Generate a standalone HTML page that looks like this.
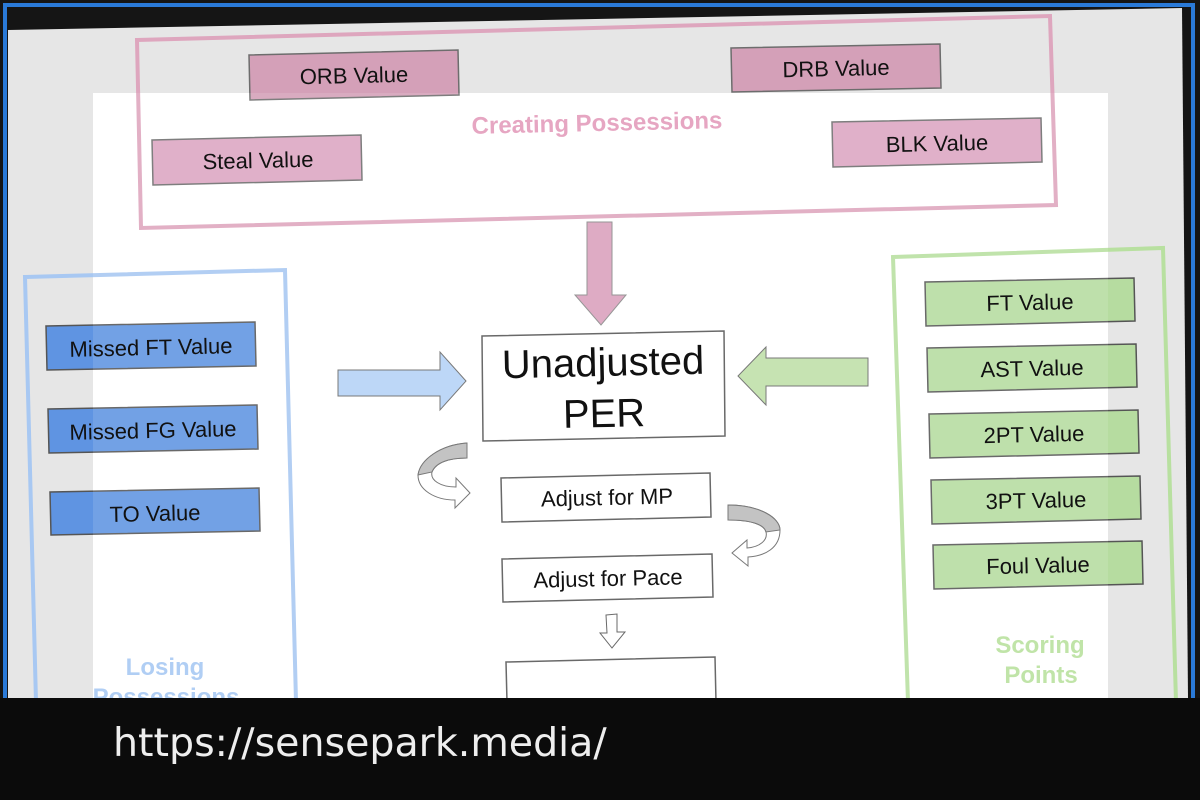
<!DOCTYPE html>
<html><head><meta charset="utf-8"><style>
html,body{margin:0;padding:0;background:#111;}
svg{display:block}
</style></head><body>
<svg width="1200" height="800" viewBox="0 0 1200 800" xmlns="http://www.w3.org/2000/svg" font-family="'Liberation Sans', Arial, sans-serif">
<rect x="0" y="0" width="1200" height="800" fill="#151515"/>
<polygon points="8,30 1182,8 1188,698 8,698" fill="#e6e6e6"/>
<rect x="93" y="93" width="1015" height="605" fill="#ffffff"/>
<polyline points="5,698 5,5 1193,5 1193,698" fill="none" stroke="#2a7ad8" stroke-width="4"/>

<g>
<polygon points="137,40 1050,16 1056,205 141,228" fill="none" stroke="#dea6be" stroke-width="4"/>
<polygon points="249,55 458,50 459,95 250,100" fill="#d4a0b8" stroke="#6d6d6d" stroke-width="1.5"/>
<polygon points="731,48 940,44 941,88 732,92" fill="#d4a0b8" stroke="#6d6d6d" stroke-width="1.5"/>
<polygon points="152,140 361,135 362,180 153,185" fill="#dca6c2" stroke="#6d6d6d" stroke-width="1.5"/>
<polygon points="832,122 1041,118 1042,162 833,167" fill="#dca6c2" stroke="#6d6d6d" stroke-width="1.5"/>
<polygon points="587,222 612,222 612,295 626,295 601,325 575,295 587,295" fill="#daa0bc" stroke="#888" stroke-width="1"/>
<polygon points="25,277 285,270 296,702 36,702" fill="none" stroke="#a8c8f2" stroke-width="4"/>
<polygon points="46,326 255,322 256,366 47,370" fill="#5f94e2" stroke="#555" stroke-width="1.5"/>
<polygon points="48,409 257,405 258,449 49,453" fill="#5f94e2" stroke="#555" stroke-width="1.5"/>
<polygon points="50,492 259,488 260,531 51,535" fill="#5f94e2" stroke="#555" stroke-width="1.5"/>
<polygon points="893,257 1163,248 1176,702 908,702" fill="none" stroke="#b8e0a0" stroke-width="4"/>
<polygon points="925,282 1134,278 1135,321 926,326" fill="#b6dca0" stroke="#555" stroke-width="1.5"/>
<polygon points="927,348 1136,344 1137,387 928,392" fill="#b6dca0" stroke="#555" stroke-width="1.5"/>
<polygon points="929,414 1138,410 1139,453 930,458" fill="#b6dca0" stroke="#555" stroke-width="1.5"/>
<polygon points="931,480 1140,476 1141,519 932,524" fill="#b6dca0" stroke="#555" stroke-width="1.5"/>
<polygon points="933,545 1142,541 1143,584 934,589" fill="#b6dca0" stroke="#555" stroke-width="1.5"/>
<polygon points="338,370 440,370 440,352 466,381 440,410 440,396 338,396" fill="#b4d2f6" stroke="#666" stroke-width="1"/>
<polygon points="868,358 766,358 766,347 738,376 766,405 766,386 868,386" fill="#bfe0a8" stroke="#666" stroke-width="1"/>
<polygon points="482,336 724,331 725,436 483,441" fill="#fff" stroke="#555" stroke-width="1.5"/>
<polygon points="501,478 710,473 711,517 502,522" fill="#fff" stroke="#555" stroke-width="1.5"/>
<polygon points="502,559 712,554 713,597 503,602" fill="#fff" stroke="#555" stroke-width="1.5"/>
<polygon points="606,615 617,614 617,632 625,632 612,648 600,633 607,633" fill="#fff" stroke="#555" stroke-width="1"/>
<polygon points="506,662 715,657 716,702 507,702" fill="#fff" stroke="#555" stroke-width="1.5"/>
<path d="M467,443 C440,445 420,460 418,475 C418,490 435,500 455,500 L455,508 L470,493 L456,478 L456,487 C440,487 430,480 432,472 C436,462 450,458 467,458 Z" fill="#fff" stroke="#666" stroke-width="1"/>
<path d="M467,443 C440,445 420,460 418,475 L432,472 C436,462 450,458 467,458 Z" fill="#bbb" stroke="#666" stroke-width="1"/>
<path d="M728,505 C760,505 780,518 780,530 C780,548 765,556 748,557 L748,566 L732,553 L747,540 L747,548 C760,547 768,540 766,532 C764,524 750,520 728,520 Z" fill="#fff" stroke="#666" stroke-width="1"/>
<path d="M728,505 C760,505 780,518 780,530 L766,532 C764,524 750,520 728,520 Z" fill="#bbb" stroke="#666" stroke-width="1"/>
</g>

<rect x="93" y="93" width="1015" height="605" fill="#ffffff" opacity="0.12"/>

<g fill="#111" text-anchor="middle" font-size="22">
<text x="354" y="83" transform="rotate(-1.3 354 76)">ORB Value</text>
<text x="836" y="76" transform="rotate(-1.3 836 69)">DRB Value</text>
<text x="258" y="168" transform="rotate(-1.3 258 161)">Steal Value</text>
<text x="937" y="151" transform="rotate(-1.3 937 144)">BLK Value</text>
<text x="151" y="355" transform="rotate(-1.3 151 348)">Missed FT Value</text>
<text x="153" y="438" transform="rotate(-1.3 153 431)">Missed FG Value</text>
<text x="155" y="521" transform="rotate(-1.3 155 514)">TO Value</text>
<text x="1030" y="310" transform="rotate(-1.3 1030 303)">FT Value</text>
<text x="1032" y="376" transform="rotate(-1.3 1032 369)">AST Value</text>
<text x="1034" y="442" transform="rotate(-1.3 1034 435)">2PT Value</text>
<text x="1036" y="508" transform="rotate(-1.3 1036 501)">3PT Value</text>
<text x="1038" y="573" transform="rotate(-1.3 1038 566)">Foul Value</text>
<text x="603" y="376" font-size="40" transform="rotate(-1.3 603 362)">Unadjusted</text>
<text x="604" y="427" font-size="40" transform="rotate(-1.3 604 413)">PER</text>
<text x="607" y="505" font-size="22" transform="rotate(-1.3 607 498)">Adjust for MP</text>
<text x="608" y="586" font-size="22" transform="rotate(-1.3 608 579)">Adjust for Pace</text>
</g>
<g font-weight="bold" font-size="24" text-anchor="middle">
<text x="597" y="131" fill="#e6a6c2" transform="rotate(-1.3 597 124)">Creating Possessions</text>
<text x="165" y="675" fill="#b0cef4">Losing</text>
<text x="166" y="705" fill="#b0cef4">Possessions</text>
<text x="1040" y="653" fill="#c0e4a8">Scoring</text>
<text x="1041" y="683" fill="#c0e4a8">Points</text>
</g>

<rect x="0" y="698" width="1200" height="102" fill="#0b0b0b"/>
<text x="113" y="756" font-size="39.5" fill="#eeeeee" font-family="'DejaVu Sans', sans-serif">https://sensepark.media/</text>
</svg>
</body></html>
